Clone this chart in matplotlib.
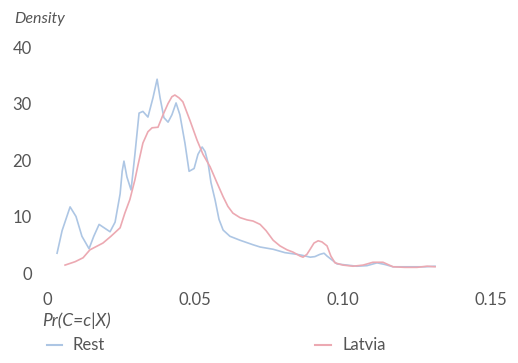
import matplotlib
matplotlib.use("Agg")
import matplotlib.pyplot as plt
from matplotlib.lines import Line2D

# Density estimates of Pr(C=c|X)
rest_x = [0.0034, 0.0051, 0.0078, 0.0098, 0.0118, 0.0142, 0.0158, 0.0176, 0.0193,
          0.0213, 0.0230, 0.0247, 0.0254, 0.0260, 0.0270, 0.0284, 0.0297, 0.0311,
          0.0324, 0.0341, 0.0358, 0.0372, 0.0382, 0.0395, 0.0409, 0.0422, 0.0436,
          0.0449, 0.0466, 0.0480, 0.0497, 0.0510, 0.0524, 0.0534, 0.0544, 0.0554,
          0.0568, 0.0581, 0.0595, 0.0618, 0.0652, 0.0696, 0.0720, 0.0764, 0.0804,
          0.0845, 0.0865, 0.0889, 0.0905, 0.0922, 0.0936, 0.0946, 0.0980, 0.1014,
          0.1047, 0.1081, 0.1115, 0.1142, 0.1169, 0.1226, 0.1277, 0.1311]
rest_y = [3.5, 7.5, 11.7, 10.0, 6.5, 4.3, 6.5, 8.6, 8.0,
          7.3, 9.0, 14.0, 18.0, 19.8, 17.0, 14.7, 21.0, 28.3,
          28.6, 27.6, 31.0, 34.3, 31.0, 27.5, 26.7, 28.0, 30.1,
          28.0, 23.0, 18.0, 18.5, 21.0, 22.3, 21.5, 19.5, 16.0,
          12.9, 9.5, 7.6, 6.5, 5.8, 5.0, 4.6, 4.2, 3.6,
          3.3, 3.1, 2.8, 2.9, 3.3, 3.5, 3.0, 1.6, 1.4,
          1.2, 1.3, 1.8, 1.5, 1.1, 1.1, 1.1, 1.2]

latvia_x = [0.0061, 0.0095, 0.0122, 0.0145, 0.0189, 0.0216, 0.0247, 0.0263, 0.0280,
            0.0297, 0.0307, 0.0324, 0.0341, 0.0355, 0.0375, 0.0392, 0.0409, 0.0422,
            0.0432, 0.0446, 0.0459, 0.0483, 0.0507, 0.0527, 0.0551, 0.0574, 0.0595,
            0.0611, 0.0628, 0.0652, 0.0676, 0.0696, 0.0720, 0.0740, 0.0764, 0.0787,
            0.0811, 0.0831, 0.0855, 0.0865, 0.0878, 0.0889, 0.0902, 0.0916, 0.0929,
            0.0946, 0.0959, 0.0973, 0.1000, 0.1034, 0.1068, 0.1101, 0.1135, 0.1169,
            0.1209, 0.1250, 0.1284, 0.1311]
latvia_y = [1.4, 2.0, 2.7, 4.1, 5.3, 6.5, 8.0, 10.6, 13.0,
            16.5, 19.0, 23.0, 25.0, 25.7, 25.8, 28.0, 30.0, 31.2,
            31.5, 31.0, 30.3, 27.0, 23.5, 21.0, 18.8, 16.0, 13.5,
            11.8, 10.6, 9.8, 9.4, 9.2, 8.6, 7.5, 5.8, 4.8,
            4.1, 3.7, 3.0, 2.8, 3.3, 4.2, 5.3, 5.7, 5.5,
            4.8, 3.0, 1.8, 1.4, 1.2, 1.4, 1.9, 1.9, 1.1,
            1.0, 1.0, 1.2, 1.1]

x_ticks = [0, 0.05, 0.10, 0.15]
x_tick_labels = ["0", "0.05", "0.10", "0.15"]
y_ticks = [0, 10, 20, 30, 40]

BLUE = "#adc6e4"
RED = "#eca9b2"
TEXT = "#555555"

plt.rcParams["font.family"] = ["Lato", "DejaVu Sans"]

W, H = 518, 363
fig = plt.figure(figsize=(W / 100, H / 100), dpi=100)
ax = fig.add_axes([47 / W, (H - 273) / H, 444 / W, 226 / H])

ax.plot(rest_x, rest_y, color=BLUE, lw=1.2, clip_on=False, solid_joinstyle="round")
ax.plot(latvia_x, latvia_y, color=RED, lw=1.2, clip_on=False, solid_joinstyle="round")

ax.set_xlim(0, 0.15)
ax.set_ylim(0, 40)
ax.set_xticks(x_ticks)
ax.set_xticklabels(x_tick_labels)
ax.set_yticks(y_ticks)
for s in ax.spines.values():
    s.set_visible(False)
ax.tick_params(axis="both", length=0, labelsize=12, colors=TEXT)
ax.tick_params(axis="x", pad=14)
ax.tick_params(axis="y", pad=11)

fig.text(14 / W, 1 - 19 / H, "Density", style="italic", fontsize=11.5,
         color=TEXT, ha="left", va="center")
fig.text(42 / W, 1 - 321 / H, "Pr(C=c|X)", style="italic", fontsize=12.5,
         color=TEXT, ha="left", va="center")

# Legend
ly = 1 - 345 / H
fig.add_artist(Line2D([47 / W, 62 / W], [ly, ly], color=BLUE, lw=1.5))
fig.text(73 / W, ly, "Rest", fontsize=12, color=TEXT, ha="left", va="center")
fig.add_artist(Line2D([315 / W, 331 / W], [ly, ly], color=RED, lw=1.5))
fig.text(343 / W, ly, "Latvia", fontsize=12, color=TEXT, ha="left", va="center")

fig.savefig("out.png", dpi=100)
